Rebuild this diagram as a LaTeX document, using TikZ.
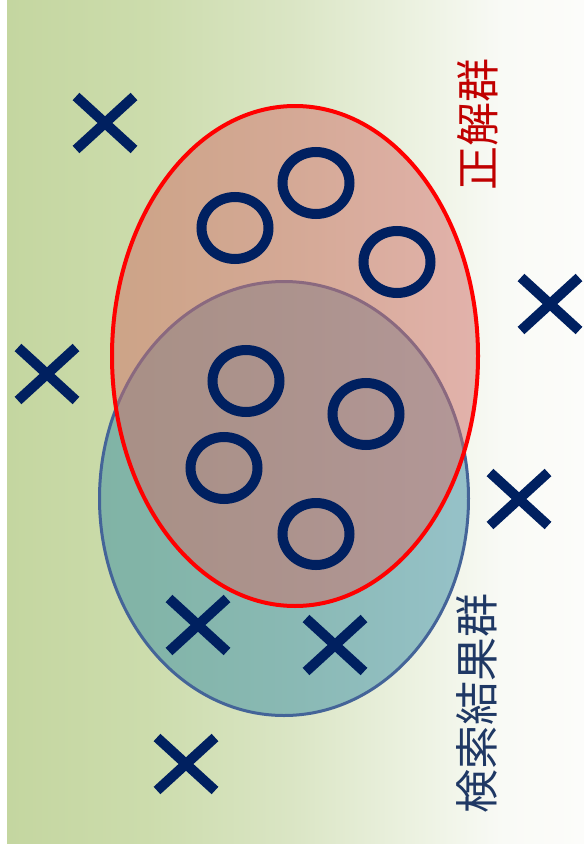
\documentclass[tikz,border=0pt]{standalone}
\usepackage{fontspec}
\newfontfamily\cjkfont{Noto Sans CJK JP}
\definecolor{markblue}{HTML}{002060}
\definecolor{labelblue}{HTML}{1F3864}
\definecolor{labelred}{HTML}{C00000}
\definecolor{answerfill}{RGB}{208,110,104}
\definecolor{resultfill}{RGB}{58,142,165}
\definecolor{resultline}{RGB}{68,100,152}
\definecolor{bgA}{RGB}{196,214,160}
\definecolor{bgB}{RGB}{204,220,172}
\definecolor{bgC}{RGB}{218,229,196}
\definecolor{bgD}{RGB}{238,243,228}
\definecolor{bgE}{RGB}{249,250,246}
\definecolor{bgF}{RGB}{252,252,250}
% green-to-white backdrop
\pgfdeclarehorizontalshading{backdrop}{100bp}{%
  color(0bp)=(bgA); color(25bp)=(bgA); color(37bp)=(bgB); color(49.5bp)=(bgC);
  color(61.6bp)=(bgD); color(68bp)=(bgE); color(75bp)=(bgF); color(100bp)=(bgF)}
\tikzset{
  hit/.style={draw=markblue, line width=10pt},
  miss/.style={draw=markblue, line width=10pt, line cap=butt},
  setlabel/.style={rotate=90, inner sep=0pt, font=\cjkfont\fontsize{44}{44}\selectfont},
}
\newcommand{\cross}[2]{%
  \draw[miss] (#1-29,#2-26.5) -- (#1+29,#2+26.5);
  \draw[miss] (#1-29,#2+26.5) -- (#1+29,#2-26.5);}
\begin{document}
\begin{tikzpicture}[x=1pt,y=-1pt]
\useasboundingbox (0,0) rectangle (584,851);
\fill[white] (0,0) rectangle (584,851);
\shade[shading=backdrop] (7,0) rectangle (584,843);

% search results
\draw[resultline, line width=3pt, fill=resultfill, fill opacity=0.5]
  (284,498.5) ellipse [x radius=184.5, y radius=217];
% correct answers
\draw[red, line width=4pt, fill=answerfill, fill opacity=0.5]
  (295,356) ellipse [x radius=183, y radius=250];

% relevant items
\foreach \x/\y in {235/228, 316/183, 397/262, 246/381, 366/414, 224/468, 316/534}
  \draw[hit] (\x,\y) ellipse [x radius=33.5, y radius=31];

% non-relevant items
\cross{105}{123}
\cross{47}{374}
\cross{550}{304}
\cross{519}{499}
\cross{198}{625}
\cross{335}{645}
\cross{186}{764}

\node[setlabel, text=labelred] (answers) at (477.5,124) {正解群};
\node[setlabel, text=labelblue] (results) at (476.5,703) {検索結果群};
\end{tikzpicture}
\end{document}
